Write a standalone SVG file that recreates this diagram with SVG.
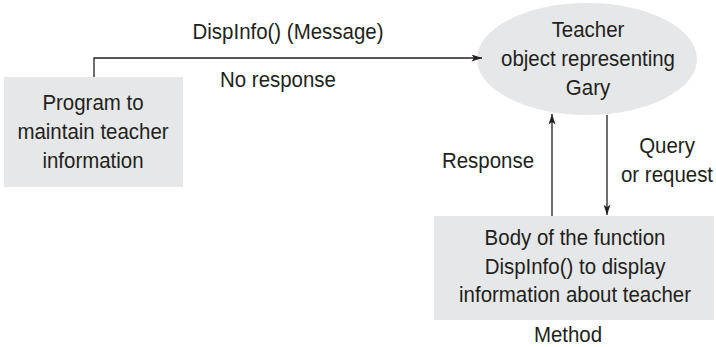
<svg xmlns="http://www.w3.org/2000/svg" width="716" height="347" viewBox="0 0 716 347">
<defs>
<marker id="ah" viewBox="0 0 12 8" refX="12" refY="4" markerWidth="12" markerHeight="7" markerUnits="userSpaceOnUse" orient="auto">
<path d="M0,0 L12,4 L0,8 L3,4 Z" fill="#231f20"/>
</marker>
<style>
.nd{fill:#e6e7e8;stroke:none}
.t{font-family:"Liberation Sans",Arial,sans-serif;font-size:22px;fill:#231f20;text-anchor:middle}
.s{text-anchor:start}
.ln{stroke:#231f20;stroke-width:1.3;fill:none}
</style>
</defs>
<g id="program">
<rect class="nd" x="4" y="77" width="179" height="110"/>
<text class="t" transform="translate(93,110) scale(0.93,1)">Program to</text>
<text class="t" transform="translate(93,139) scale(0.93,1)">maintain teacher</text>
<text class="t" transform="translate(93,168) scale(0.93,1)">information</text>
</g>
<g id="teacher">
<ellipse class="nd" cx="587" cy="59" rx="110" ry="56"/>
<text class="t" transform="translate(588,37) scale(0.93,1)">Teacher</text>
<text class="t" transform="translate(588,66) scale(0.93,1)">object representing</text>
<text class="t" transform="translate(588,95) scale(0.93,1)">Gary</text>
</g>
<g id="method">
<rect class="nd" x="434" y="216" width="280" height="104"/>
<text class="t" transform="translate(575,245) scale(0.93,1)">Body of the function</text>
<text class="t" transform="translate(575,274) scale(0.93,1)">DispInfo() to display</text>
<text class="t" transform="translate(575,302) scale(0.93,1)">information about teacher</text>
<text class="t" transform="translate(568,342) scale(0.93,1)">Method</text>
</g>
<g id="connectors">
<path class="ln" d="M94,77 V58 H482" marker-end="url(#ah)"/>
<text class="t" transform="translate(288,39) scale(0.93,1)">DispInfo() (Message)</text>
<text class="t s" transform="translate(220,87) scale(0.93,1)">No response</text>
<path class="ln" d="M552,216 V114" marker-end="url(#ah)"/>
<text class="t" transform="translate(488,168) scale(0.93,1)">Response</text>
<path class="ln" d="M607,115 V215" marker-end="url(#ah)"/>
<text class="t" transform="translate(667,153) scale(0.93,1)">Query</text>
<text class="t" transform="translate(667,182) scale(0.93,1)">or request</text>
</g>
</svg>
